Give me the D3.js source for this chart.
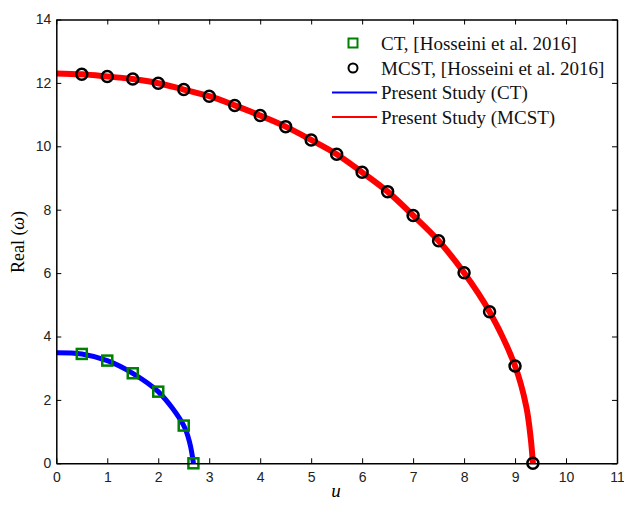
<!DOCTYPE html>
<html>
<head>
<meta charset="utf-8">
<script src="https://cdn.jsdelivr.net/npm/d3@7"></script>
<style>
  body { margin: 0; background: #fff; }
  svg { display: block; }
</style>
</head>
<body>
<div id="chart"></div>
<script>
// reference data (Hosseini et al. 2016)
const ctU = [0.5, 1, 1.5, 2, 2.5, 2.69]
const ctRe = [3.45, 3.24, 2.84, 2.26, 1.19, 0]
const mcstU = [0.5, 1, 1.5, 2, 2.5, 3, 3.5, 4, 4.5, 5, 5.5, 6, 6.5, 7, 7.5, 8, 8.5, 9, 9.35]
const mcstRe = [12.27, 12.2, 12.12, 11.99, 11.79, 11.58, 11.29, 10.97, 10.62, 10.2, 9.75, 9.18, 8.57, 7.82, 7.02, 6.01, 4.78, 3.07, 0]

// present study curves
const lineCtU = [0, 0.5, 1, 1.5, 2, 2.5, 2.62, 2.69]
const lineCtRe = [3.49, 3.45, 3.24, 2.84, 2.26, 1.19, 0.63, 0]
const lineMcstU = [0, 0.5, 1, 1.5, 2, 2.5, 3, 3.5, 4, 4.5, 5, 5.5, 6, 6.5, 7, 7.5, 8, 8.5, 9, 9.22, 9.31, 9.35]
const lineMcstRe = [12.3, 12.27, 12.2, 12.12, 11.99, 11.79, 11.58, 11.29, 10.97, 10.62, 10.2, 9.75, 9.18, 8.57, 7.82, 7.02, 6.01, 4.78, 3.07, 1.79, 0.75, 0]

const xTicks = d3.range(0, 12, 1)
const yTicks = d3.range(0, 15, 2)

const legendLabels = ['CT, [Hosseini et al. 2016]', 'MCST, [Hosseini et al. 2016]', 'Present Study (CT)', 'Present Study (MCST)']

const margin = {top: 19.5, right: 7, bottom: 45.7, left: 56.3},
  width = 624 - margin.left - margin.right,
  height = 509 - margin.top - margin.bottom

const svg = d3.select('#chart').append('svg')
  .attr('width', 624)
  .attr('height', 509)

const g = svg.append('g')
  .attr('transform', `translate(${margin.left}, ${margin.top})`)

const xScale = d3.scaleLinear().domain([0, 11]).range([0, width])
const yScale = d3.scaleLinear().domain([0, 14]).range([height, 0])

const zip = (a, b) => a.map((v, i) => [v, b[i]])

const line = d3.line()
  .x(d => xScale(d[0]))
  .y(d => yScale(d[1]))
  .curve(d3.curveCatmullRom)

g.append('path')
  .datum(zip(lineMcstU, lineMcstRe))
  .attr('d', line)
  .attr('fill', 'none')
  .attr('stroke', '#ff0000')
  .attr('stroke-width', 6)

g.append('path')
  .datum(zip(lineCtU, lineCtRe))
  .attr('d', line)
  .attr('fill', 'none')
  .attr('stroke', '#0000ff')
  .attr('stroke-width', 5)

g.selectAll('.sq').data(zip(ctU, ctRe))
  .enter().append('rect')
  .attr('class', 'sq')
  .attr('x', d => xScale(d[0]) - 5)
  .attr('y', d => yScale(d[1]) - 5)
  .attr('width', 10)
  .attr('height', 10)
  .attr('fill', 'none')
  .attr('stroke', '#008000')
  .attr('stroke-width', 2.5)

g.selectAll('.circ').data(zip(mcstU, mcstRe))
  .enter().append('circle')
  .attr('class', 'circ')
  .attr('cx', d => xScale(d[0]))
  .attr('cy', d => yScale(d[1]))
  .attr('r', 5.5)
  .attr('fill', 'none')
  .attr('stroke', '#000')
  .attr('stroke-width', 2.5)

// axes, ticks pointing inward on all four sides
const tickFont = g => g.selectAll('text')
  .style('font-family', 'Liberation Sans, Arial, sans-serif')
  .style('font-size', '14px')
  .attr('fill', '#222')

g.append('g')
  .attr('transform', `translate(0, ${height})`)
  .call(d3.axisBottom(xScale).tickValues(xTicks).tickSizeInner(-5).tickSizeOuter(0).tickPadding(9))
  .call(tickFont)
g.append('g')
  .call(d3.axisTop(xScale).tickValues(xTicks).tickSizeInner(-5).tickSizeOuter(0).tickFormat(''))
g.append('g')
  .call(d3.axisLeft(yScale).tickValues(yTicks).tickSizeInner(-5).tickSizeOuter(0).tickPadding(5))
  .call(tickFont)
g.append('g')
  .attr('transform', `translate(${width}, 0)`)
  .call(d3.axisRight(yScale).tickValues(yTicks).tickSizeInner(-5).tickSizeOuter(0).tickFormat(''))

g.selectAll('.domain').attr('stroke', '#000').attr('stroke-width', 1.5)
g.selectAll('.tick line').attr('stroke', '#000')

// axis labels
svg.append('text')
  .attr('x', 336)
  .attr('y', 497)
  .attr('text-anchor', 'middle')
  .style('font-family', 'Liberation Serif, Times New Roman, serif')
  .style('font-style', 'italic')
  .style('font-size', '19px')
  .text('u')

const yLab = svg.append('text')
  .attr('transform', 'translate(24, 242) rotate(-90)')
  .attr('text-anchor', 'middle')
  .style('font-family', 'Liberation Serif, Times New Roman, serif')
  .style('font-size', '18px')
yLab.append('tspan').text('Real (')
yLab.append('tspan').style('font-style', 'italic').text('ω')
yLab.append('tspan').text(')')

// legend
const legend = svg.append('g')
const rowY = [43, 68, 92.5, 117]
legendLabels.forEach((lab, i) => {
  const y = rowY[i]
  if (i === 0) {
    legend.append('rect')
      .attr('x', 348.5).attr('y', y - 4.5)
      .attr('width', 9).attr('height', 9)
      .attr('fill', 'none').attr('stroke', '#008000').attr('stroke-width', 2)
  } else if (i === 1) {
    legend.append('circle')
      .attr('cx', 353).attr('cy', y).attr('r', 4.5)
      .attr('fill', 'none').attr('stroke', '#000').attr('stroke-width', 2)
  } else {
    legend.append('line')
      .attr('x1', 332).attr('x2', 377).attr('y1', y).attr('y2', y)
      .attr('stroke', i === 2 ? '#0000ff' : '#ff0000').attr('stroke-width', 2)
  }
  legend.append('text')
    .attr('x', 381).attr('y', y + 6.5)
    .style('font-family', 'Liberation Serif, Times New Roman, serif')
    .style('font-size', '19px')
    .attr('fill', '#111')
    .text(lab)
})
</script>
</body>
</html>
